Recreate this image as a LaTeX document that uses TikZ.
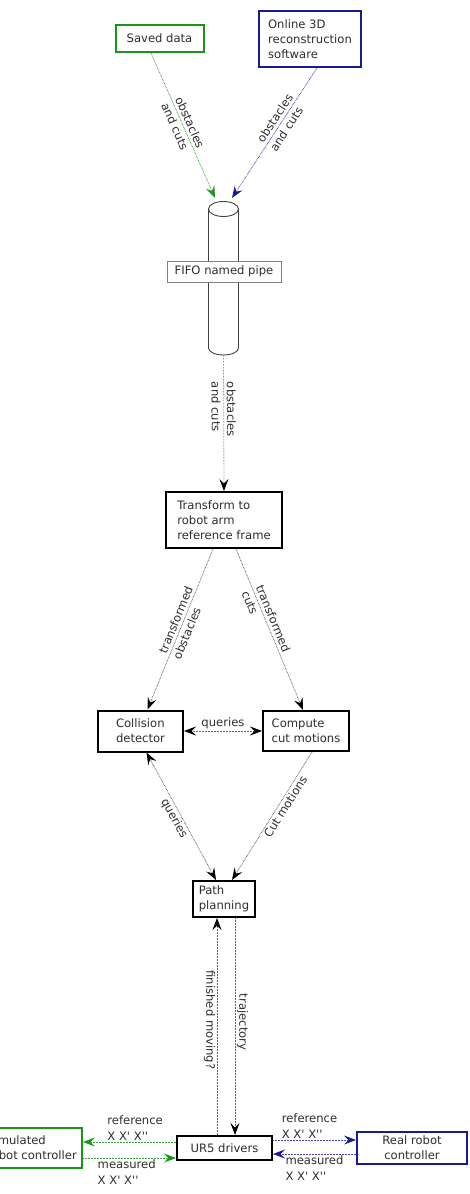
\documentclass[tikz,border=0pt]{standalone}
\usepackage{fontspec}
\newfontfamily\djv{DejaVu Sans}
\usetikzlibrary{arrows.meta,calc}
\definecolor{sgreen}{RGB}{25,150,25}
\definecolor{sblue}{RGB}{25,25,150}
\definecolor{txt}{RGB}{45,45,45}
\begin{document}
\begin{tikzpicture}[x=1pt,y=-1pt,
  every node/.style={font=\djv\fontsize{11.6}{15.3}\selectfont, text=txt},
  box/.style={draw=black, line width=2pt, fill=white, align=left, inner sep=0pt},
  lab/.style={align=left, inner sep=1.5pt},
  flow/.style={line width=0.8pt, dash pattern=on 0.7pt off 0.8pt, draw=black!60, -{Stealth[length=12pt,width=9pt,inset=4.5pt,black]}},
  dflow/.style={line width=0.8pt, dash pattern=on 0.7pt off 0.8pt, draw=black!60,
     {Stealth[length=12pt,width=9pt,inset=4.5pt,black]}-{Stealth[length=12pt,width=9pt,inset=4.5pt,black]}},
  gflow/.style={line width=0.8pt, dash pattern=on 0.7pt off 0.8pt, draw=sgreen!85, -{Stealth[length=12pt,width=9pt,inset=4.5pt,sgreen]}},
  bflow/.style={line width=0.8pt, dash pattern=on 0.7pt off 0.8pt, draw=sblue!80, -{Stealth[length=12pt,width=9pt,inset=4.5pt,sblue]}},
  pipeline/.style={draw=black!75, line width=0.9pt, fill=white}
]
\useasboundingbox (0,0) rectangle (469,1194);

% source boxes
\node[box, draw=sgreen, align=center, minimum width=88, minimum height=27] (saved) at (159.5,38.5) {Saved data};
\node[box, draw=sblue, minimum width=102, minimum height=56] (online) at (310,39) {Online 3D\\reconstruction\\software};

% FIFO pipe (cylinder)
\coordinate (pipetop) at (223.5,198);
\coordinate (pipebot) at (223.5,355);
\draw[pipeline] (208.5,209) -- (208.5,348) arc[start angle=180, end angle=360, x radius=15pt, y radius=7pt] -- (238.5,209) -- cycle;
\draw[pipeline] (223.5,209) ellipse[x radius=15pt, y radius=7.5pt];
\node[draw=black!50, fill=white, line width=0.6pt, minimum width=114, minimum height=21, inner sep=0pt] (fifo) at (224,271.5) {FIFO named pipe};

% processing boxes
\node[box, minimum width=116, minimum height=56] (transform) at (224,520) {Transform to\\robot arm\\reference frame};
\node[box, minimum width=85, minimum height=41] (collision) at (140.5,731) {Collision\\detector};
\node[box, minimum width=86, minimum height=40] (compute) at (306,731) {Compute\\cut motions};
\node[box, minimum width=62, minimum height=36] (path) at (224,899) {Path\\planning};
\node[box, align=center, minimum width=95, minimum height=24] (ur5) at (224.5,1148) {UR5 drivers};
\node[box, draw=sgreen, minimum width=100, minimum height=40] (sim) at (32,1148) {Simulated\\robot controller};
\node[box, draw=sblue, align=center, minimum width=110, minimum height=32] (real) at (412,1148) {Real robot\\controller};

% connectors
\draw[gflow] ([xshift=-8.5pt]saved.south) -- node[lab, sloped, midway] {obstacles\\and cuts} ([xshift=-8.5pt]pipetop);
\draw[bflow] ([xshift=7pt]online.south) -- node[lab, sloped, pos=0.42] {obstacles\\and cuts} ([xshift=8.5pt]pipetop);
\draw[flow] (pipebot) -- node[lab, sloped, pos=0.4] {obstacles\\and cuts} (transform.north);
\draw[flow] ([xshift=-11pt]transform.south) -- node[lab, sloped, pos=0.46] {transformed\\obstacles} ([xshift=7pt]collision.north);
\draw[flow] ([xshift=12pt]transform.south) -- node[lab, sloped, pos=0.45] {transformed\\cuts} ([xshift=-3pt]compute.north);
\draw[dflow] (collision.east) -- node[lab, above] {queries} (compute.west);
\draw[dflow] ([xshift=6pt]collision.south) -- node[lab, sloped, below, pos=0.49] {queries} ([xshift=-8pt]path.north);
\draw[flow] ([xshift=6pt]compute.south) -- node[lab, sloped, below, pos=0.4] {Cut motions} ([xshift=8pt]path.north);
\draw[flow] ([xshift=-7.5pt]ur5.north) -- node[lab, rotate=-90, anchor=north, pos=0.53] {finished moving?} ([xshift=-7pt]path.south);
\draw[flow] ([xshift=11pt]path.south) -- node[lab, rotate=-90, anchor=south, pos=0.48] {trajectory} ([xshift=10.5pt]ur5.north);

\draw[gflow] ([yshift=6pt]ur5.west) -- node[lab, above, pos=0.44] {reference\\X X' X''} ([yshift=6pt]sim.east);
\draw[gflow] ([yshift=-10pt]sim.east) -- node[lab, below, pos=0.47] {measured\\X X' X''} ([yshift=-10pt]ur5.west);
\draw[bflow] ([yshift=8pt]ur5.east) -- node[lab, above, pos=0.44] {reference\\X X' X''} ([yshift=8pt]real.west);
\draw[bflow] ([yshift=-6pt]real.west) -- node[lab, below] {measured\\X X' X''} ([yshift=-6pt]ur5.east);
\end{tikzpicture}
\end{document}
